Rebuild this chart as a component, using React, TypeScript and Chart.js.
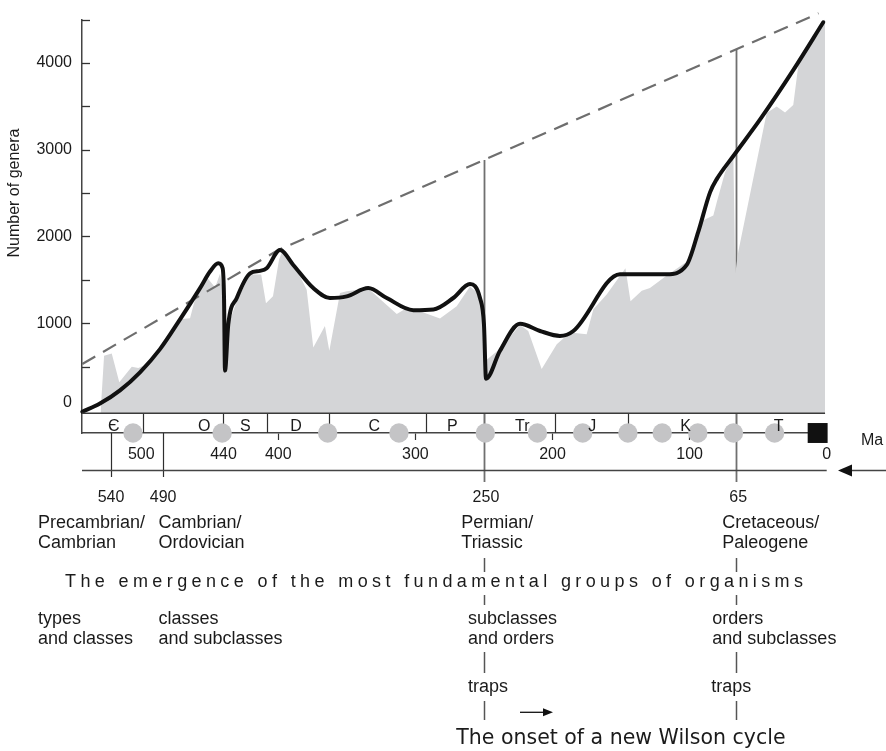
import React, { useEffect, useRef } from 'react';
import { Chart, registerables } from 'chart.js';

Chart.register(...registerables);

const SANS = '"Liberation Sans", Arial, Helvetica, sans-serif';
const DEJAVU = '"DejaVu Sans", Verdana, sans-serif';
const INK = '#1b1b1b';

// ---------------- data (Ma = million years ago, genera count) ----------------
const curveMa = [543, 530.1, 515.5, 500.9, 486.3, 471.7, 457.1, 449.8, 443.8, 440.6, 439.6, 438.9, 436.5, 430.3, 420.6, 413.4, 408.5, 398.8, 389.1, 374.5, 362.3, 350.1, 334.4, 320.9, 301.5, 286.9, 272.4, 260.2, 252.9, 250, 248.5, 238.3, 223.7, 209.1, 194.6, 184.8, 150.8, 116.7, 102.1, 93.7, 85.1, 80.2, 68.1, 48.7, 24.4, 2.5];
const curveGenera = [-20, 74, 226, 435, 702, 1045, 1405, 1596, 1691, 1634, 1291, 454, 987, 1291, 1576, 1604, 1634, 1844, 1672, 1405, 1291, 1310, 1405, 1291, 1151, 1159, 1291, 1451, 1291, 987, 360, 683, 994, 911, 854, 911, 1565, 1565, 1672, 2053, 2509, 2661, 2928, 3346, 3917, 4469];

const diversityMa = [529.7, 527.1, 521.5, 516.0, 506.9, 502.1, 493.6, 482.9, 470.2, 464.4, 459.8, 457.1, 452.0, 446.1, 442.5, 440.4, 438.9, 436.7, 430.1, 420.6, 412.5, 409.0, 403.9, 399.5, 397.3, 387.7, 379.3, 374.5, 366.0, 362.8, 355.0, 350.1, 334.4, 313.6, 306.3, 296.6, 282.1, 269.9, 260.2, 254.3, 250.7, 248.9, 238.3, 223.7, 217.7, 207.9, 196.9, 187.2, 175.1, 170.2, 160.5, 146.8, 143.1, 134.9, 128.9, 116.7, 102.1, 94.6, 90.0, 82.7, 80.2, 74.2, 68.1, 66.7, 64.5, 43.8, 36.5, 30.4, 24.4, 20.7, 1.2];
const diversityGenera = [-37, 626, 652, 321, 500, 485, 546, 763, 1048, 1059, 1333, 1413, 1527, 1413, 1573, 1367, 797, 968, 1265, 1562, 1562, 1231, 1311, 1733, 1824, 1653, 1387, 720, 968, 683, 1348, 1368, 1402, 1108, 1177, 1139, 1056, 1196, 1425, 1345, 1139, 568, 705, 979, 911, 474, 759, 892, 873, 1162, 1330, 1634, 1253, 1376, 1405, 1550, 1710, 1995, 2186, 2243, 2395, 2737, 2943, 1573, 1824, 3422, 3499, 3430, 3517, 3974, 4507];

const trendMa = [543, 400, 6];
const trendGenera = [530, 1844, 4572];

const periodNames = ['Є', 'O', 'S', 'D', 'C', 'P', 'Tr', 'J', 'K', 'T'];
const periodLabelMa = [520, 454, 424, 387, 330, 273, 222, 171, 103, 35];
const periodBoundaryMa = [499, 440, 408, 363, 292, 250, 198, 145, 66];

const extinctionMa = [506, 441, 364, 312, 249, 211, 178, 145, 120, 94, 68, 38];
const presentMa = [6.6];

const maTicks = [500, 440, 400, 300, 200, 100, 0];
const maTickMarks = [400, 300, 200, 100];
const generaTicks = [0, 500, 1000, 1500, 2000, 2500, 3000, 3500, 4000, 4500];
const generaLabels = [1000, 2000, 3000, 4000];

const eventLabels = ['540', '490', '250', '65'];
const eventMa = [522, 484, 250, 66];
const eventReachesTrend = [false, false, true, true];
const eventNames = [['Precambrian/', 'Cambrian'], ['Cambrian/', 'Ordovician'], ['Permian/', 'Triassic'], ['Cretaceous/', 'Paleogene']];
const groupNames = [['types', 'and classes'], ['classes', 'and subclasses'], ['subclasses', 'and orders'], ['orders', 'and subclasses']];
const trapsLabel = 'traps';
const emergenceText = 'The emergence of the most fundamental groups of organisms';
const wilsonText = 'The onset of a new Wilson cycle';
const yTitle = 'Number of genera';
const xUnit = 'Ma';

const BAND_TOP = -37;
const BAND_BOTTOM = -265;
const Y_MAX = 4500;

function trendAt(m: number): number {
  for (let i = 0; i < trendMa.length - 1; i++) {
    const a = trendMa[i], b = trendMa[i + 1];
    if (m <= a && m >= b) {
      const t = (a - m) / (a - b);
      return trendGenera[i] + t * (trendGenera[i + 1] - trendGenera[i]);
    }
  }
  return trendGenera[trendGenera.length - 1];
}

function seg(ctx: CanvasRenderingContext2D, x1: number, y1: number, x2: number, y2: number) {
  ctx.beginPath();
  ctx.moveTo(x1, y1);
  ctx.lineTo(x2, y2);
  ctx.stroke();
}

function txt(ctx: CanvasRenderingContext2D, s: string, x: number, y: number, size: number, align: CanvasTextAlign = 'left', family = SANS, baseline: CanvasTextBaseline = 'alphabetic') {
  ctx.font = `${size}px ${family}`;
  ctx.textAlign = align;
  ctx.textBaseline = baseline;
  ctx.fillStyle = INK;
  ctx.fillText(s, x, y);
}

const overlayPlugin = {
  id: 'overlay',
  beforeDatasetsDraw(chart: any) {
    const { ctx } = chart;
    const xs = chart.scales.x, ys = chart.scales.y;
    const yTop = ys.getPixelForValue(BAND_TOP);
    const yBot = ys.getPixelForValue(BAND_BOTTOM);
    ctx.save();
    ctx.strokeStyle = '#2e2e2e';
    ctx.lineWidth = 1.2;
    periodBoundaryMa.forEach((m) => {
      const px = Math.round(xs.getPixelForValue(m)) + 0.5;
      seg(ctx, px, yTop, px, yBot);
    });
    eventMa.forEach((m, i) => {
      const px = Math.round(xs.getPixelForValue(m)) + 0.5;
      if (eventReachesTrend[i]) {
        ctx.strokeStyle = '#707070';
        ctx.lineWidth = 1.8;
        seg(ctx, px, ys.getPixelForValue(trendAt(m)), px, yBot + 49);
      } else {
        ctx.strokeStyle = '#2e2e2e';
        ctx.lineWidth = 1.2;
        seg(ctx, px, yBot, px, yBot + 44);
      }
    });
    ctx.restore();
  },
  afterDatasetsDraw(chart: any) {
    const { ctx, chartArea } = chart;
    const xs = chart.scales.x, ys = chart.scales.y;
    const yTop = ys.getPixelForValue(BAND_TOP);
    ctx.save();
    ctx.strokeStyle = '#3a3a3a';
    ctx.lineWidth = 1.5;
    seg(ctx, chartArea.left, yTop, xs.getPixelForValue(diversityMa[diversityMa.length - 1]), yTop);
    ctx.restore();
  },
  afterDraw(chart: any) {
    const { ctx, chartArea, width } = chart;
    const xs = chart.scales.x, ys = chart.scales.y;
    const yBot = ys.getPixelForValue(BAND_BOTTOM);
    ctx.save();

    // inward y ticks
    ctx.strokeStyle = '#333';
    ctx.lineWidth = 1.3;
    generaTicks.forEach((v) => {
      if (v === 0) return;
      const py = Math.round(ys.getPixelForValue(v)) + 0.5;
      seg(ctx, chartArea.left, py, chartArea.left + 8, py);
    });
    txt(ctx, '0', chartArea.left - 10, ys.getPixelForValue(0) - 7, 16, 'right', SANS, 'middle');

    // y title
    ctx.save();
    ctx.translate(15, 193);
    ctx.rotate(-Math.PI / 2);
    txt(ctx, yTitle, 0, 0, 16, 'center', SANS, 'middle');
    ctx.restore();

    // period labels
    periodNames.forEach((n, i) => {
      txt(ctx, n, xs.getPixelForValue(periodLabelMa[i]), yBot - 2, 16, 'center');
    });

    // Ma unit and timeline arrow
    txt(ctx, xUnit, 861, 445, 16, 'left');
    const yArrow = yBot + 37.5;
    ctx.strokeStyle = '#444';
    ctx.lineWidth = 1.5;
    seg(ctx, chartArea.left, yArrow, chartArea.right, yArrow);
    seg(ctx, 848, yArrow, width, yArrow);
    ctx.fillStyle = '#111';
    ctx.beginPath();
    ctx.moveTo(838, yArrow);
    ctx.lineTo(852, yArrow - 6);
    ctx.lineTo(852, yArrow + 6);
    ctx.closePath();
    ctx.fill();

    // event labels
    eventLabels.forEach((s, i) => {
      txt(ctx, s, xs.getPixelForValue(eventMa[i]) + (eventReachesTrend[i] ? 2 : 0), 501.5, 16, 'center');
    });

    const nameX = [38, 158.5, 461.3, 722.3];
    eventNames.forEach((lines, i) => {
      txt(ctx, lines[0], nameX[i], 528.3, 18);
      txt(ctx, lines[1], nameX[i], 548.3, 18);
    });

    // letter-spaced emergence line
    ctx.font = `18px ${SANS}`;
    const chars = Array.from(emergenceText);
    const widths = chars.map((c) => ctx.measureText(c).width);
    const total = widths.reduce((a, b) => a + b, 0);
    const gap = (803 - 65 - total) / (chars.length - 1);
    let cx = 65;
    chars.forEach((c, i) => {
      txt(ctx, c, cx, 587, 18);
      cx += widths[i] + gap;
    });

    const groupX = [38, 158.5, 468, 712.3];
    groupNames.forEach((lines, i) => {
      txt(ctx, lines[0], groupX[i], 624, 18);
      txt(ctx, lines[1], groupX[i], 644, 18);
    });
    txt(ctx, trapsLabel, 468, 691.5, 18);
    txt(ctx, trapsLabel, 711.3, 691.5, 18);

    // dashed connectors under the two extinction events
    const dashSegs = [[558, 572], [595, 605], [652, 673], [701, 720]];
    ctx.strokeStyle = '#555';
    ctx.lineWidth = 1.5;
    eventMa.forEach((m, i) => {
      if (!eventReachesTrend[i]) return;
      const px = Math.round(xs.getPixelForValue(m)) + 0.5;
      dashSegs.forEach(([a, b]) => seg(ctx, px, a, px, b));
    });

    // small arrow
    ctx.strokeStyle = '#111';
    ctx.lineWidth = 1.3;
    seg(ctx, 520, 712.3, 545, 712.3);
    ctx.fillStyle = '#111';
    ctx.beginPath();
    ctx.moveTo(553, 712.3);
    ctx.lineTo(543, 708.3);
    ctx.lineTo(543, 716.3);
    ctx.closePath();
    ctx.fill();

    txt(ctx, wilsonText, 456.3, 744, 20.5, 'left', DEJAVU);

    ctx.restore();
  },
};

export default function App() {
  const canvasRef = useRef<HTMLCanvasElement | null>(null);

  useEffect(() => {
    const canvas = canvasRef.current;
    if (!canvas) return;
    const chart = new Chart(canvas, {
      type: 'line',
      data: {
        datasets: [
          {
            label: 'extinctions',
            data: extinctionMa.map((m) => ({ x: m, y: BAND_BOTTOM })),
            showLine: false,
            pointRadius: 9.7,
            pointBackgroundColor: '#c4c4c6',
            pointBorderWidth: 0,
            pointBorderColor: 'rgba(0,0,0,0)',
            clip: false,
            order: 0,
          } as any,
          {
            label: 'present',
            data: presentMa.map((m) => ({ x: m, y: BAND_BOTTOM })),
            showLine: false,
            pointStyle: 'rect',
            pointRadius: 14.1,
            pointBackgroundColor: '#111',
            pointBorderWidth: 0,
            pointBorderColor: 'rgba(0,0,0,0)',
            clip: false,
            order: 0,
          } as any,
          {
            label: 'curve',
            data: curveMa.map((m, i) => ({ x: m, y: curveGenera[i] })),
            borderColor: '#111',
            borderWidth: 4,
            pointRadius: 0,
            cubicInterpolationMode: 'monotone',
            borderJoinStyle: 'round',
            borderCapStyle: 'round',
            fill: false,
            clip: false,
            order: 1,
          } as any,
          {
            label: 'trend',
            data: trendMa.map((m, i) => ({ x: m, y: trendGenera[i] })),
            borderColor: '#6e6e6e',
            borderWidth: 2.2,
            borderDash: [15, 9],
            pointRadius: 0,
            tension: 0,
            fill: false,
            clip: false,
            order: 2,
          } as any,
          {
            label: 'diversity',
            data: diversityMa.map((m, i) => ({ x: m, y: diversityGenera[i] })),
            borderColor: 'rgba(0,0,0,0)',
            borderWidth: 0,
            backgroundColor: '#d4d5d7',
            pointRadius: 0,
            tension: 0,
            fill: { value: BAND_TOP },
            order: 3,
          } as any,
        ],
      },
      options: {
        responsive: false,
        animation: false,
        devicePixelRatio: 1,
        events: [],
        layout: { padding: { left: 0, top: 15.7, right: 59.3, bottom: 0 } },
        plugins: { legend: { display: false }, tooltip: { enabled: false } },
        scales: {
          x: {
            type: 'linear',
            reverse: true,
            min: 0,
            max: 543.2,
            afterFit: (s: any) => { s.height = 318; },
            afterBuildTicks: (s: any) => { s.ticks = maTicks.map((v) => ({ value: v })); },
            border: { display: true, color: '#444', width: 1.5 },
            grid: {
              display: true,
              drawOnChartArea: false,
              drawTicks: true,
              tickLength: 7,
              tickWidth: 1.2,
              tickColor: (c: any) => (c.tick && maTickMarks.includes(c.tick.value) ? '#333' : 'rgba(0,0,0,0)'),
            },
            ticks: {
              autoSkip: false,
              maxRotation: 0,
              minRotation: 0,
              padding: 5,
              color: INK,
              font: { family: SANS, size: 16 },
              callback: (v: any) => String(v),
            },
          },
          y: {
            type: 'linear',
            min: BAND_BOTTOM,
            max: Y_MAX,
            afterFit: (s: any) => { s.width = 82; },
            afterBuildTicks: (s: any) => { s.ticks = generaTicks.map((v) => ({ value: v })); },
            border: { display: true, color: '#444', width: 1.5 },
            grid: { display: false, drawTicks: false },
            ticks: {
              padding: 10,
              color: INK,
              font: { family: SANS, size: 16 },
              callback: (v: any) => (generaLabels.includes(v) ? String(v) : ''),
            },
          },
        },
      },
      plugins: [overlayPlugin],
    } as any);
    return () => chart.destroy();
  }, []);

  return (
    <div style={{ position: 'fixed', left: 0, top: 0, width: 886, height: 751, background: '#fff', overflow: 'hidden' }}>
      <canvas ref={canvasRef} width={886} height={751} style={{ display: 'block' }} />
    </div>
  );
}
